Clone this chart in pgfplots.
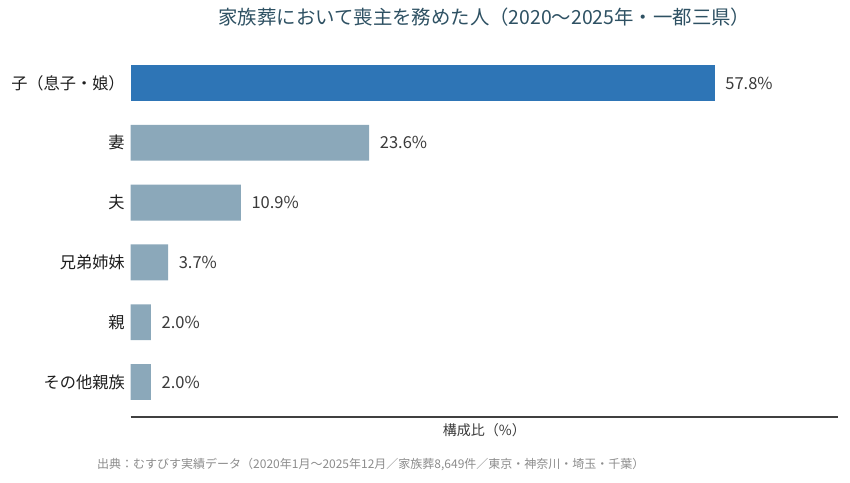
\documentclass[border=0pt]{standalone}
\usepackage{fontspec}
\setmainfont{Noto Sans CJK JP}
\usepackage{pgfplots}
\pgfplotsset{compat=1.18}
\definecolor{mainbar}{HTML}{2E75B6}
\definecolor{otherbar}{HTML}{8BA8BA}
\definecolor{titlecol}{HTML}{2E5163}
\definecolor{txt}{HTML}{1E1E1E}
\definecolor{valtxt}{HTML}{3A3A3A}
\definecolor{srctxt}{HTML}{8C8C8C}
\definecolor{axcol}{HTML}{404040}
\begin{document}
\begin{tikzpicture}
\useasboundingbox (0,0) rectangle (850bp,483bp);
\begin{axis}[
  at={(130.7bp,66bp)}, anchor=south west,
  scale only axis, width=707.3bp, height=369bp,
  xbar, bar width=0.6, bar shift=0pt,
  xmin=0, xmax=70,
  ymin=-0.585, ymax=5.585, y dir=reverse,
  axis lines=left,
  axis line style={-},
  x axis line style={draw=axcol, line width=1.3bp},
  y axis line style={draw=none},
  xtick=\empty,
  ytick={0,1,2,3,4,5},
  yticklabels={子（息子・娘）,妻,夫,兄弟姉妹,親,その他親族},
  major tick length=0pt,
  yticklabel style={font=\fontsize{16.2bp}{19bp}\selectfont, text=txt, inner sep=0pt, xshift=-5.8bp},
  point meta=explicit symbolic,
  nodes near coords,
  nodes near coords style={anchor=west, inner sep=0pt, xshift=10.5bp, font=\fontsize{16.5bp}{19bp}\selectfont, text=valtxt},
  title={家族葬において喪主を務めた人（2020〜2025年・一都三県）},
  title style={at={(axis description cs:0.5,1)}, anchor=center, yshift=25bp, font=\fontsize{19.4bp}{22bp}\selectfont, text=titlecol},
  xlabel={構成比（\%）},
  xlabel style={at={(axis description cs:0.5,0)}, anchor=center, yshift=-13.5bp, font=\fontsize{14bp}{16bp}\selectfont, text=valtxt},
]
\addplot[fill=mainbar, draw=none] coordinates {(57.8,0) [57.8\%]};
\addplot[fill=otherbar, draw=none] coordinates {
  (23.6,1) [23.6\%]
  (10.9,2) [10.9\%]
  (3.7,3) [3.7\%]
  (2.0,4) [2.0\%]
  (2.0,5) [2.0\%]
};
\end{axis}
\node[anchor=west, inner sep=0pt, font=\fontsize{12bp}{14bp}\selectfont, text=srctxt] at (97bp,18bp) {出典：むすびす実績データ（2020年1月〜2025年12月／家族葬8,649件／東京・神奈川・埼玉・千葉）};
\end{tikzpicture}
\end{document}
